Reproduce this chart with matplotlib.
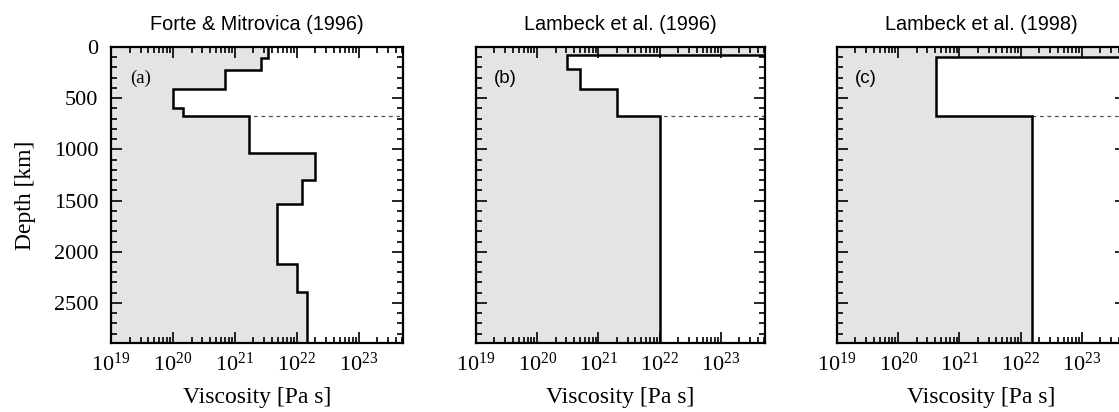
import numpy as np
import matplotlib
matplotlib.use("Agg")
import matplotlib.pyplot as plt
from matplotlib.ticker import MultipleLocator, LogLocator, LogFormatterMathtext, NullFormatter

plt.rcParams['font.family'] = ['Liberation Serif', 'DejaVu Serif']
plt.rcParams['mathtext.fontset'] = 'custom'
plt.rcParams['mathtext.rm'] = 'Liberation Serif'

# layer edges [km] and viscosities [Pa s] (lithosphere given a very high value)
depth_a = [0, 110, 225, 410, 600, 670, 1035, 1300, 1530, 2120, 2395, 2891]
visc_a = [3.4e21, 2.7e21, 7.0e20, 1.0e20, 1.45e20, 1.7e21, 2.0e22, 1.2e22, 4.8e21, 1.0e22, 1.45e22]

depth_b = [0, 80, 210, 415, 670, 2891]
visc_b = [1e30, 3.1e20, 5.0e20, 2.0e21, 1.0e22]

depth_c = [0, 100, 670, 2891]
visc_c = [1e30, 4.2e20, 1.5e22]

titles = ["Forte & Mitrovica (1996)", "Lambeck et al. (1996)", "Lambeck et al. (1998)"]
labels = ["(a)", "(b)", "(c)"]
profiles = [(depth_a, visc_a), (depth_b, visc_b), (depth_c, visc_c)]

xmin, xmax = 1e19, 10 ** 23.72
cmb = 2891

fig = plt.figure(figsize=(11.19, 4.12), dpi=100)
lefts = [0.0992, 0.4254, 0.748]
widths = [0.261, 0.2583, 0.2583]

for i, (edges, visc) in enumerate(profiles):
    ax = fig.add_axes([lefts[i], 0.1675, widths[i], 0.7184])
    ax.axhline(670, color="#555555", lw=0.9, ls=(0, (3, 3)), zorder=0.5)
    ax.stairs(visc, edges, orientation="horizontal", baseline=xmin, fill=True,
              color="#e4e4e4", zorder=1)
    ax.stairs(visc, edges, orientation="horizontal", baseline=None,
              color="black", lw=1.8, zorder=2)
    ax.set_xscale("log")
    ax.set_xlim(xmin, xmax)
    ax.set_ylim(cmb, 0)
    ax.xaxis.set_major_locator(LogLocator(base=10, numticks=10))
    ax.xaxis.set_major_formatter(LogFormatterMathtext())
    ax.xaxis.set_minor_locator(LogLocator(base=10, subs=np.arange(2, 10), numticks=20))
    ax.xaxis.set_minor_formatter(NullFormatter())
    ax.yaxis.set_major_locator(MultipleLocator(500))
    ax.yaxis.set_minor_locator(MultipleLocator(100))
    ax.tick_params(which="both", direction="in", top=True, right=True, width=1.2)
    ax.tick_params(which="major", length=8, labelsize=16)
    ax.tick_params(which="minor", length=4)
    ax.tick_params(axis="x", pad=7)
    ax.tick_params(axis="y", pad=9)
    for s in ax.spines.values():
        s.set_linewidth(1.6)
    ax.set_title(titles[i], family="Liberation Sans", fontsize=14.3, pad=12)
    ax.set_xlabel("Viscosity [Pa s]", fontsize=17, labelpad=8)
    fam = "Liberation Serif" if i == 0 else "Liberation Sans"
    ax.text(0.1, 0.895, labels[i], transform=ax.transAxes, fontsize=13.5,
            family=fam, ha="center", va="center", zorder=3)
    if i == 0:
        ax.set_ylabel("Depth [km]", fontsize=17, labelpad=13)
    else:
        ax.set_yticklabels([])

fig.savefig("out.png", dpi=100)
